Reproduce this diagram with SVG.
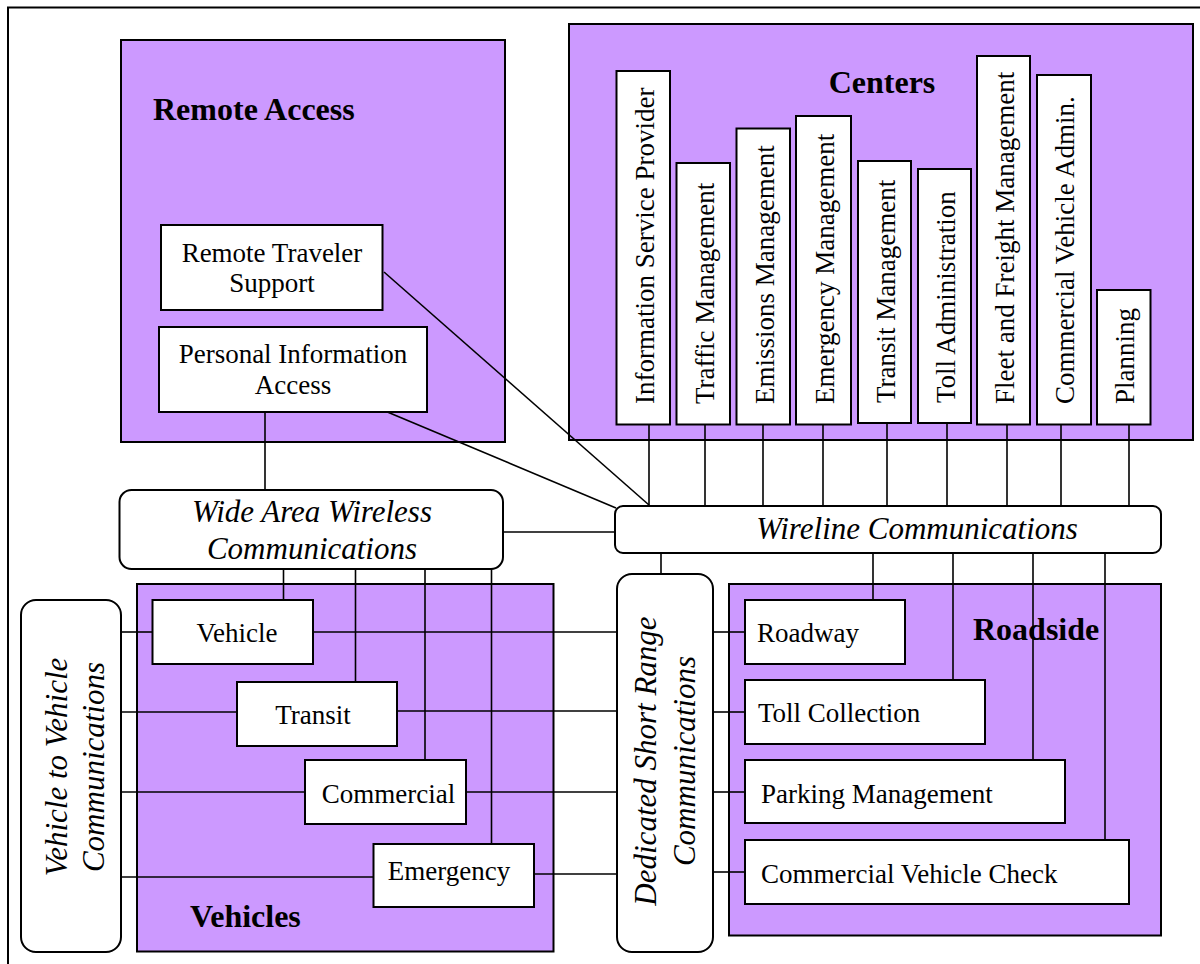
<svg xmlns="http://www.w3.org/2000/svg" width="1200" height="964" viewBox="0 0 1200 964">
<style>
.grp{fill:#CC99FF;stroke:#000;stroke-width:2}
.box{fill:#fff;stroke:#000;stroke-width:2}
.rbox{fill:#fff;stroke:#000;stroke-width:2}
.ln{stroke:#000;stroke-width:1.6;fill:none}
text{font-family:"Liberation Serif","Times New Roman",serif;fill:#000}
.t{font-size:27px}
.h{font-size:32px;font-weight:bold}
.i{font-size:31px;font-style:italic}
.c{text-anchor:middle}
</style>
<rect x="8" y="7.5" width="1260" height="1000" fill="#fff" stroke="#000" stroke-width="2"/>

<g id="remote-access">
<rect class="grp" x="121" y="40" width="384" height="402"/>
<text class="h" x="153" y="120">Remote Access</text>
</g>
<g id="centers">
<rect class="grp" x="569" y="24" width="624" height="416"/>
<text class="h c" x="882" y="93">Centers</text>
</g>
<g id="vehicles">
<rect class="grp" x="137" y="584" width="416.5" height="367.5"/>
<text class="h" x="190" y="927">Vehicles</text>
</g>
<g id="roadside">
<rect class="grp" x="729" y="584" width="432" height="351.5"/>
<text class="h" x="973" y="640">Roadside</text>
</g>

<g id="connectors">
<line class="ln" x1="265" y1="411" x2="265" y2="490"/>
<line class="ln" x1="384" y1="272" x2="649" y2="505"/>
<line class="ln" x1="385" y1="411" x2="616" y2="508"/>
<line class="ln" x1="503" y1="532" x2="615" y2="532"/>
<line class="ln" x1="649" y1="424" x2="649" y2="506"/>
<line class="ln" x1="705" y1="424" x2="705" y2="506"/>
<line class="ln" x1="763" y1="424" x2="763" y2="506"/>
<line class="ln" x1="823" y1="424" x2="823" y2="506"/>
<line class="ln" x1="887" y1="422" x2="887" y2="506"/>
<line class="ln" x1="947" y1="422" x2="947" y2="506"/>
<line class="ln" x1="1007" y1="424" x2="1007" y2="506"/>
<line class="ln" x1="1061" y1="424" x2="1061" y2="506"/>
<line class="ln" x1="1129" y1="424" x2="1129" y2="506"/>
<line class="ln" x1="661" y1="553" x2="661" y2="575"/>
<line class="ln" x1="873" y1="553" x2="873" y2="600"/>
<line class="ln" x1="953" y1="553" x2="953" y2="680"/>
<line class="ln" x1="1033" y1="553" x2="1033" y2="760"/>
<line class="ln" x1="1105" y1="553" x2="1105" y2="840"/>
<line class="ln" x1="283.5" y1="569" x2="283.5" y2="600"/>
<line class="ln" x1="355.5" y1="569" x2="355.5" y2="682"/>
<line class="ln" x1="425" y1="569" x2="425" y2="760"/>
<line class="ln" x1="491.5" y1="569" x2="491.5" y2="844"/>
<line class="ln" x1="121" y1="632" x2="152.5" y2="632"/>
<line class="ln" x1="121" y1="712" x2="237" y2="712"/>
<line class="ln" x1="119" y1="792" x2="305" y2="792"/>
<line class="ln" x1="121" y1="877" x2="373.5" y2="877"/>
<line class="ln" x1="313" y1="632" x2="617" y2="632"/>
<line class="ln" x1="397" y1="711" x2="617" y2="711"/>
<line class="ln" x1="466" y1="792" x2="617" y2="792"/>
<line class="ln" x1="534" y1="874" x2="617" y2="874"/>
<line class="ln" x1="713" y1="632" x2="745" y2="632"/>
<line class="ln" x1="713" y1="712" x2="745" y2="712"/>
<line class="ln" x1="713" y1="792" x2="745" y2="792"/>
<line class="ln" x1="713" y1="872" x2="745" y2="872"/>
</g>

<g id="remote-traveler-support">
<rect class="box" x="161" y="225" width="221.5" height="85"/>
<text class="t c" x="272" y="262">Remote Traveler</text>
<text class="t c" x="272" y="292">Support</text>
</g>
<g id="personal-information-access">
<rect class="box" x="159" y="327" width="268" height="85"/>
<text class="t c" x="293" y="363">Personal Information</text>
<text class="t c" x="293" y="394">Access</text>
</g>

<g id="isp"><rect class="box" x="616.5" y="71" width="53.5" height="353.5"/><text class="t" x="653.5" y="404" transform="rotate(-90 653.5 404)">Information Service Provider</text></g>
<g id="traffic-mgmt"><rect class="box" x="676.5" y="163" width="53.5" height="261.5"/><text class="t" x="713.5" y="404" transform="rotate(-90 713.5 404)">Traffic Management</text></g>
<g id="emissions-mgmt"><rect class="box" x="736.5" y="128.5" width="53.5" height="296"/><text class="t" x="773.5" y="404" transform="rotate(-90 773.5 404)">Emissions Management</text></g>
<g id="emergency-mgmt"><rect class="box" x="796" y="116" width="55" height="308.5"/><text class="t" x="833.5" y="404" transform="rotate(-90 833.5 404)">Emergency Management</text></g>
<g id="transit-mgmt"><rect class="box" x="858" y="161" width="53" height="262"/><text class="t" x="894.5" y="403" transform="rotate(-90 894.5 403)">Transit Management</text></g>
<g id="toll-admin"><rect class="box" x="918" y="169" width="53" height="254"/><text class="t" x="954.5" y="403" transform="rotate(-90 954.5 403)">Toll Administration</text></g>
<g id="fleet-mgmt"><rect class="box" x="977" y="56" width="53" height="368.5"/><text class="t" x="1013.5" y="404" transform="rotate(-90 1013.5 404)">Fleet and Freight Management</text></g>
<g id="cv-admin"><rect class="box" x="1037" y="75" width="54" height="349.5"/><text class="t" x="1074" y="404" transform="rotate(-90 1074 404)">Commercial Vehicle Admin.</text></g>
<g id="planning"><rect class="box" x="1097" y="290" width="53.5" height="134.5"/><text class="t" x="1134" y="404" transform="rotate(-90 1134 404)">Planning</text></g>

<g id="wide-area-wireless">
<rect class="rbox" x="119.5" y="490" width="383.5" height="79" rx="12"/>
<text class="i c" x="312" y="522">Wide Area Wireless</text>
<text class="i c" x="312" y="559">Communications</text>
</g>
<g id="wireline">
<rect class="rbox" x="615" y="506" width="546" height="47" rx="8"/>
<text class="i c" x="917" y="539">Wireline Communications</text>
</g>
<g id="v2v">
<rect class="rbox" x="21" y="600" width="100" height="352" rx="15"/>
<text class="i c" x="67" y="767" transform="rotate(-90 67 767)">Vehicle to Vehicle</text>
<text class="i c" x="104" y="767" transform="rotate(-90 104 767)">Communications</text>
</g>
<g id="dsrc">
<rect class="rbox" x="617" y="574" width="96" height="378" rx="15"/>
<text class="i c" x="656" y="761" transform="rotate(-90 656 761)">Dedicated Short Range</text>
<text class="i c" x="695" y="761" transform="rotate(-90 695 761)">Communications</text>
</g>

<g id="vehicle"><rect class="box" x="152.5" y="600" width="160.5" height="64"/><text class="t c" x="237" y="642">Vehicle</text></g>
<g id="transit"><rect class="box" x="237" y="682" width="160" height="64"/><text class="t c" x="313" y="724">Transit</text></g>
<g id="commercial"><rect class="box" x="305" y="760" width="161" height="64"/><text class="t c" x="388.5" y="803">Commercial</text></g>
<g id="emergency"><rect class="box" x="373.5" y="844" width="160.5" height="63"/><text class="t c" x="449" y="880">Emergency</text></g>

<g id="roadway"><rect class="box" x="745" y="600" width="160" height="64"/><text class="t" x="757" y="642">Roadway</text></g>
<g id="toll-collection"><rect class="box" x="745" y="680" width="240" height="64"/><text class="t" x="758" y="722">Toll Collection</text></g>
<g id="parking-management"><rect class="box" x="745" y="760" width="320" height="63"/><text class="t" x="761" y="803">Parking Management</text></g>
<g id="commercial-vehicle-check"><rect class="box" x="745" y="840" width="384" height="64"/><text class="t" x="761" y="883">Commercial Vehicle Check</text></g>
</svg>
